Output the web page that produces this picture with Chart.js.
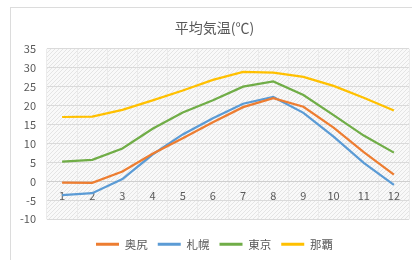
<!DOCTYPE html>
<html>
<head>
<meta charset="utf-8">
<script src="https://cdn.jsdelivr.net/npm/chart.js@4/dist/chart.umd.min.js"></script>
<style>
  html, body { margin: 0; padding: 0; background: #fff; overflow: hidden; }
  #frame { position: absolute; left: 10px; top: 7px; width: 420px; height: 270px; border: 1px solid #dcdcdc; }
  #wrap { position: absolute; left: 0; top: 0; width: 412px; height: 260px; }
</style>
</head>
<body>
<div id="frame"></div>
<div id="wrap"><canvas id="chart"></canvas></div>
<script>
const months = ['1', '2', '3', '4', '5', '6', '7', '8', '9', '10', '11', '12'];
const okushiri = [-0.3, -0.4, 2.6, 7.3, 11.4, 15.6, 19.6, 22.0, 19.7, 14.2, 7.7, 1.8];
const sapporo = [-3.6, -3.1, 0.6, 7.1, 12.4, 16.7, 20.5, 22.3, 18.1, 11.8, 4.9, -0.9];
const tokyo = [5.2, 5.7, 8.7, 13.9, 18.2, 21.4, 25.0, 26.4, 22.8, 17.5, 12.1, 7.6];
const naha = [17.0, 17.1, 18.9, 21.4, 24.0, 26.8, 28.9, 28.7, 27.6, 25.2, 22.1, 18.7];
const yTicks = { min: -10, max: 35, step: 5 };

const textColor = '#595959';
const font = "'Noto Sans CJK JP', 'Noto Sans', sans-serif";

// hatched plot background like the Excel pattern fill
function makeHatch() {
  const c = document.createElement('canvas');
  c.width = 4; c.height = 4;
  const g = c.getContext('2d');
  g.fillStyle = '#f9f9f9';
  g.fillRect(0, 0, 4, 4);
  g.strokeStyle = '#e4e4e4';
  g.lineWidth = 1;
  g.beginPath();
  g.moveTo(0, 4); g.lineTo(4, 0);
  g.moveTo(-1, 1); g.lineTo(1, -1);
  g.moveTo(3, 5); g.lineTo(5, 3);
  g.stroke();
  return g.createPattern(c, 'repeat');
}

const plotBg = {
  id: 'plotBg',
  beforeDraw(chart) {
    const { ctx, chartArea: a } = chart;
    ctx.save();
    ctx.fillStyle = makeHatch();
    ctx.fillRect(a.left, a.top, a.right - a.left, a.bottom - a.top);
    ctx.restore();
  }
};

function series(label, data, color) {
  return {
    label: label,
    data: data,
    borderColor: color,
    backgroundColor: color,
    borderWidth: 2.25,
    pointRadius: 0,
    tension: 0
  };
}

new Chart(document.getElementById('chart'), {
  type: 'line',
  data: {
    labels: months,
    datasets: [
      series('奥尻', okushiri, '#ed7d31'),
      series('札幌', sapporo, '#5b9bd5'),
      series('東京', tokyo, '#70ad47'),
      series('那覇', naha, '#ffc000')
    ]
  },
  options: {
    responsive: true,
    maintainAspectRatio: false,
    animation: false,
    layout: { padding: { left: 20, right: 3, top: 12, bottom: 0 } },
    plugins: {
      title: {
        display: true,
        text: '平均気温(℃)',
        color: textColor,
        font: { family: font, size: 14, weight: 'normal' },
        padding: { top: 7, bottom: 13 }
      },
      legend: {
        position: 'bottom',
        // empty title used only as a spacer above the legend row
        title: { display: true, text: ' ', font: { size: 1 }, padding: { top: 0, bottom: 8 } },
        labels: {
          color: textColor,
          font: { family: font, size: 11.5 },
          boxWidth: 23,
          boxHeight: 3,
          padding: 10,
          generateLabels(chart) {
            return Chart.defaults.plugins.legend.labels.generateLabels(chart)
              .map(item => Object.assign(item, { lineWidth: 0 }));
          }
        }
      },
      tooltip: { enabled: false }
    },
    scales: {
      x: {
        position: { y: 0 },
        offset: true,
        grid: { display: true, offset: true, color: '#ebebeb', drawTicks: false },
        border: { display: true, color: '#cfcfcf', width: 1 },
        ticks: { color: textColor, font: { family: font, size: 11 }, padding: 8, maxRotation: 0 }
      },
      y: {
        min: yTicks.min,
        max: yTicks.max,
        afterFit(scale) { scale.width = 27; },
        grid: { color: '#dadada', drawTicks: false },
        border: { display: false },
        ticks: { stepSize: yTicks.step, color: textColor, font: { family: font, size: 11 }, padding: 11 }
      }
    }
  },
  plugins: [plotBg]
});
</script>
</body>
</html>
